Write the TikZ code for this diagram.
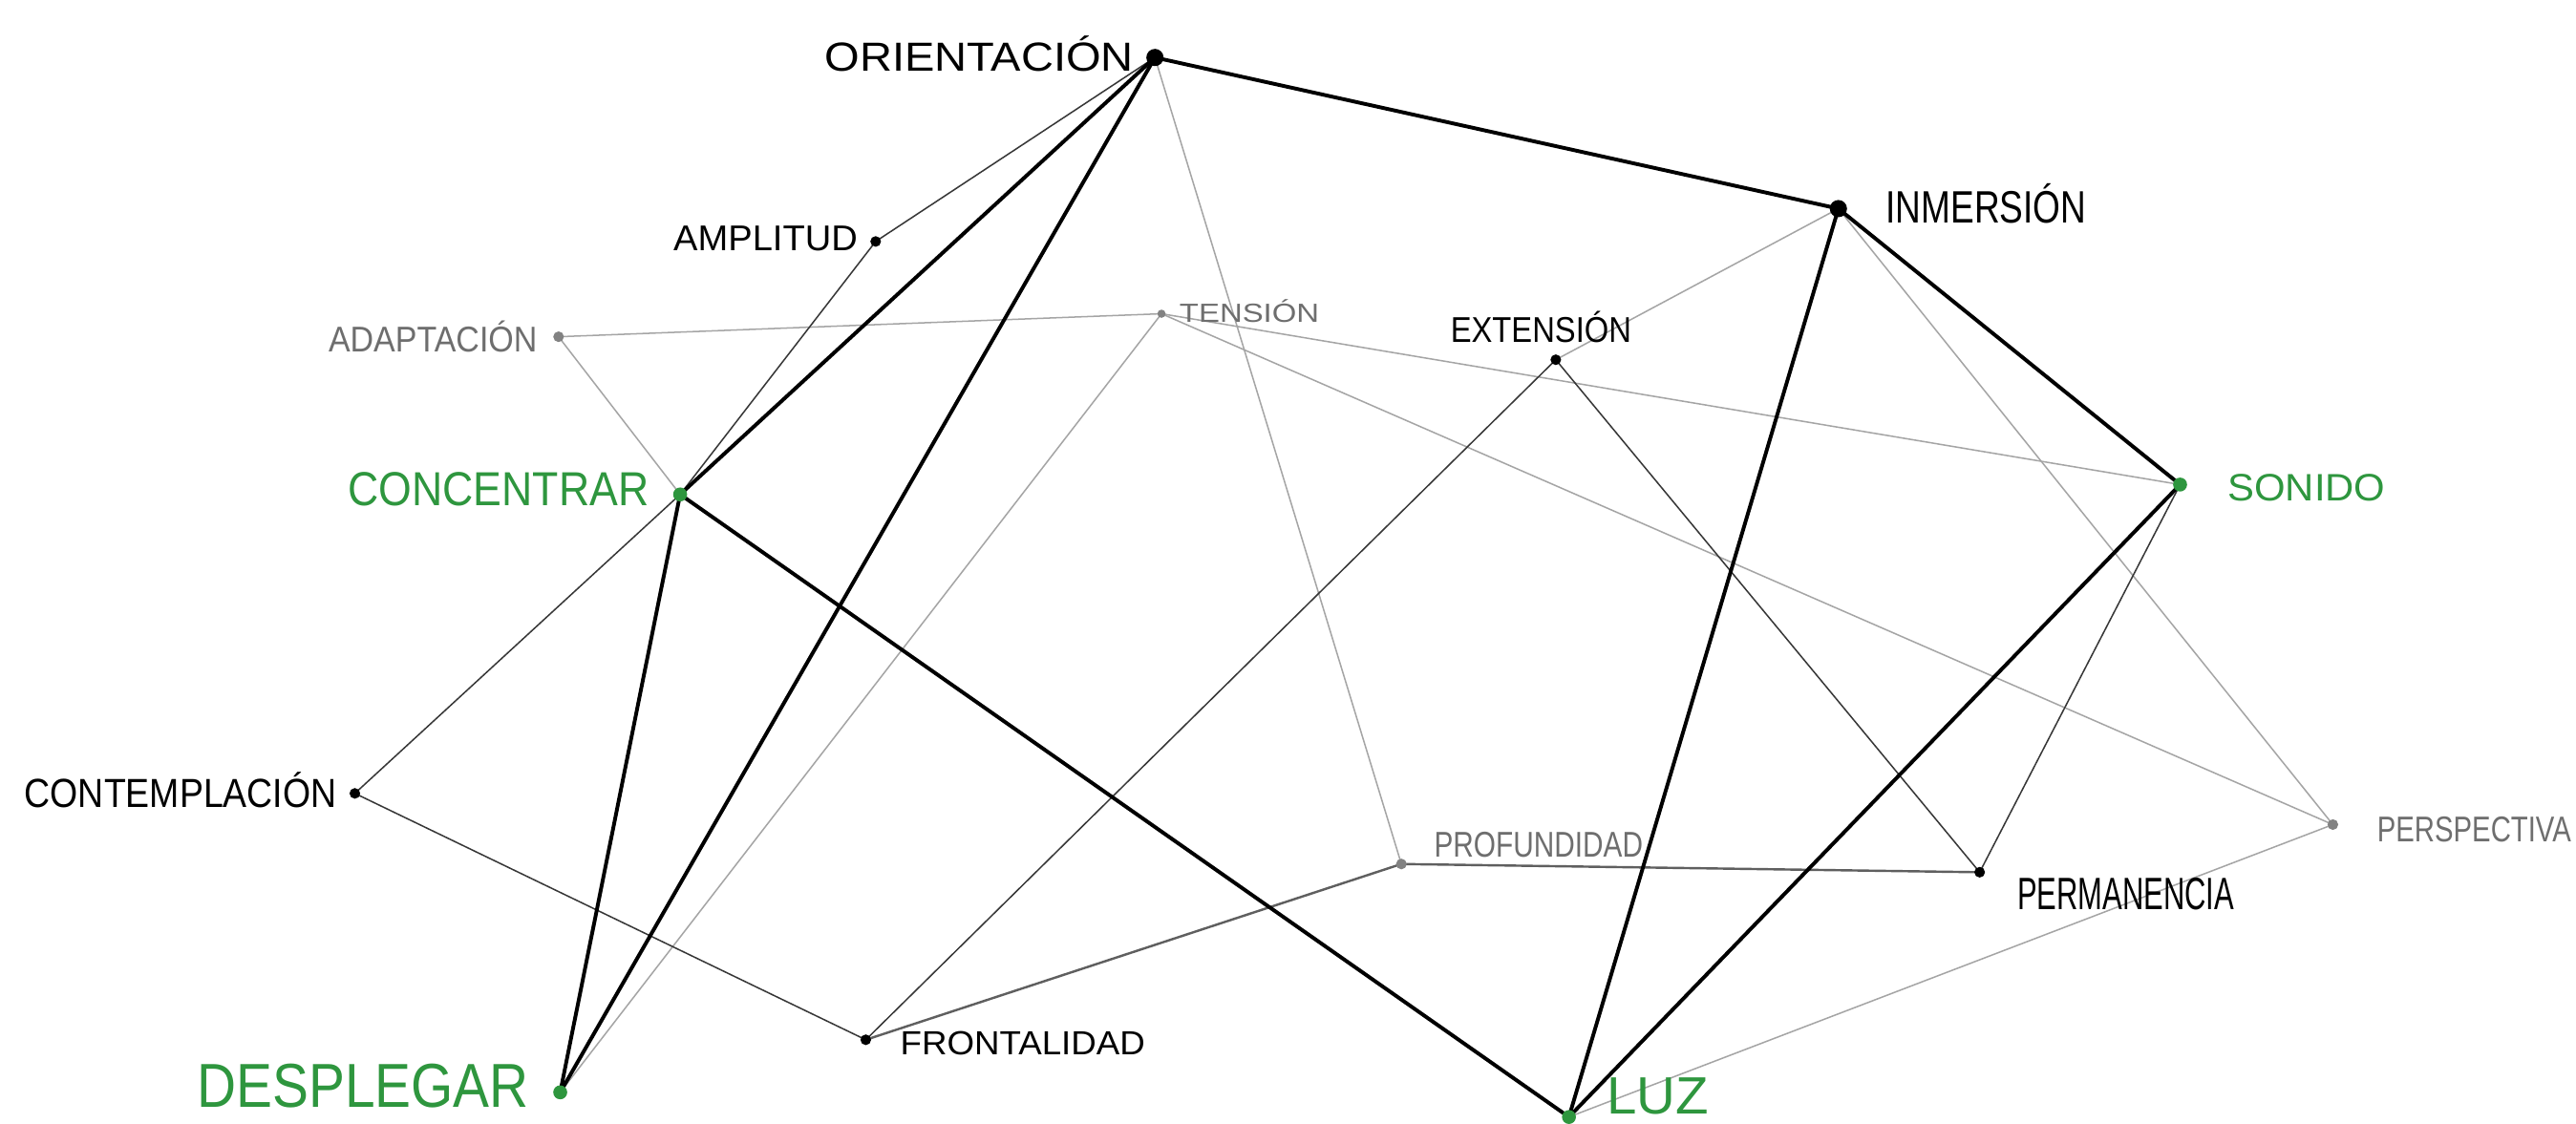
\documentclass[tikz,border=0pt]{standalone}
\usepackage{fontspec}
\setmainfont{Liberation Sans}
\usepackage{graphicx}
\usetikzlibrary{backgrounds}
\newlength\pxu
\setlength\pxu{0.02cm}
\newcommand\lbl[3]{\resizebox{#1\pxu}{#2\pxu}{\smash{#3}\vphantom{X}}}
\definecolor{grn}{RGB}{46,150,62}
\definecolor{lgry}{RGB}{165,165,165}
\definecolor{dgry}{RGB}{55,55,55}
\definecolor{tgry}{RGB}{110,110,110}
\definecolor{dotgry}{RGB}{130,130,130}
\tikzset{
  bigdot/.style={circle,fill=black,inner sep=0,minimum size=0.21cm},
  blkdot/.style={circle,fill=black,inner sep=0,minimum size=0.13cm},
  grndot/.style={circle,fill=grn,inner sep=0,minimum size=0.17cm},
  grydot/.style={circle,fill=dotgry,inner sep=0,minimum size=0.13cm},
  smalldot/.style={circle,fill=dotgry,inner sep=0,minimum size=0.1cm},
  txt/.style={inner sep=0,outer sep=0},
  edgeA/.style={draw=black,line width=1.3pt},
  edgeB/.style={draw=dgry,line width=0.5pt},
  edgeC/.style={draw=lgry,line width=0.5pt},
  edgeD/.style={draw=dgry!80,line width=0.8pt},
}
\begin{document}
\begin{tikzpicture}[x=0.02cm,y=-0.02cm]
\useasboundingbox (0,0) rectangle (1568,684);
\clip (0,0) rectangle (1568,684);
% dots
\node[bigdot] (ori) at (703,35) {};
\node[bigdot] (inm) at (1119,127) {};
\node[blkdot] (amp) at (533,147) {};
\node[grydot] (ada) at (340,205) {};
\node[smalldot] (ten) at (707,191) {};
\node[blkdot] (ext) at (947,219) {};
\node[grndot] (con) at (414,301) {};
\node[grndot] (son) at (1327,295) {};
\node[blkdot] (cmp) at (216,483) {};
\node[grydot] (pro) at (853,526) {};
\node[blkdot] (per) at (1205,531) {};
\node[grydot] (psp) at (1420,502) {};
\node[blkdot] (fro) at (527,633) {};
\node[grndot] (des) at (341,665) {};
\node[grndot] (luz) at (955,680) {};
% labels
\node[txt,anchor=east] (tori) at (690,35) {\lbl{188}{17}{ORIENTACIÓN}};
\node[txt,anchor=west] (tinm) at (1148,126) {\lbl{122}{19}{INMERSIÓN}};
\node[txt,anchor=east] (tamp) at (522,145) {\lbl{112}{15}{AMPLITUD}};
\node[txt,anchor=east,text=tgry] (tada) at (327,207) {\lbl{127}{15}{ADAPTACIÓN}};
\node[txt,anchor=west,text=tgry] (tten) at (718,191) {\lbl{85}{11}{TENSIÓN}};
\node[txt] (text) at (938,201) {\lbl{110}{15}{EXTENSIÓN}};
\node[txt,anchor=east,text=grn] (tcon) at (395,298) {\lbl{183}{20}{CONCENTRAR}};
\node[txt,anchor=west,text=grn] (tson) at (1356,297) {\lbl{96}{16}{SONIDO}};
\node[txt,anchor=east] (tcmp) at (205,483) {\lbl{190}{17}{CONTEMPLACIÓN}};
\node[txt,anchor=west,text=tgry] (tpro) at (873,514) {\lbl{127}{15}{PROFUNDIDAD}};
\node[txt,anchor=west] (tper) at (1228,544) {\lbl{132}{19}{PERMANENCIA}};
\node[txt,anchor=west,text=tgry] (tpsp) at (1447,505) {\lbl{118}{15}{PERSPECTIVA}};
\node[txt,anchor=west] (tfro) at (548,635) {\lbl{149}{14}{FRONTALIDAD}};
\node[txt,anchor=east,text=grn] (tdes) at (322,661) {\lbl{202}{26}{DESPLEGAR}};
\node[txt,anchor=west,text=grn] (tluz) at (978,667) {\lbl{62}{22}{LUZ}};
% edges
\begin{scope}[on background layer]
\fill[white] (0,0) rectangle (1568,684);
% grey thin
\draw[edgeC] (ori.center) -- (pro.center);
\draw[edgeC] (ada.center) -- (ten.center);
\draw[edgeC] (ada.center) -- (con.center);
\draw[edgeC] (ten.center) -- (des.center);
\draw[edgeC] (ten.center) -- (son.center);
\draw[edgeC] (ten.center) -- (psp.center);
\draw[edgeC] (ext.center) -- (inm.center);
\draw[edgeC] (inm.center) -- (psp.center);
\draw[edgeC] (psp.center) -- (luz.center);
\draw[edgeD] (fro.center) -- (pro.center);
% thin dark
\draw[edgeB] (ori.center) -- (amp.center);
\draw[edgeB] (amp.center) -- (con.center);
\draw[edgeB] (con.center) -- (cmp.center);
\draw[edgeB] (cmp.center) -- (fro.center);
\draw[edgeB] (fro.center) -- (ext.center);
\draw[edgeB] (ext.center) -- (per.center);
\draw[edgeB] (per.center) -- (son.center);
\draw[edgeD] (pro.center) -- (per.center);
% thick
\draw[edgeA] (ori.center) -- (inm.center);
\draw[edgeA] (ori.center) -- (con.center);
\draw[edgeA] (ori.center) -- (des.center);
\draw[edgeA] (con.center) -- (des.center);
\draw[edgeA] (con.center) -- (luz.center);
\draw[edgeA] (inm.center) -- (son.center);
\draw[edgeA] (inm.center) -- (luz.center);
\draw[edgeA] (son.center) -- (luz.center);
\end{scope}
\end{tikzpicture}
\end{document}
